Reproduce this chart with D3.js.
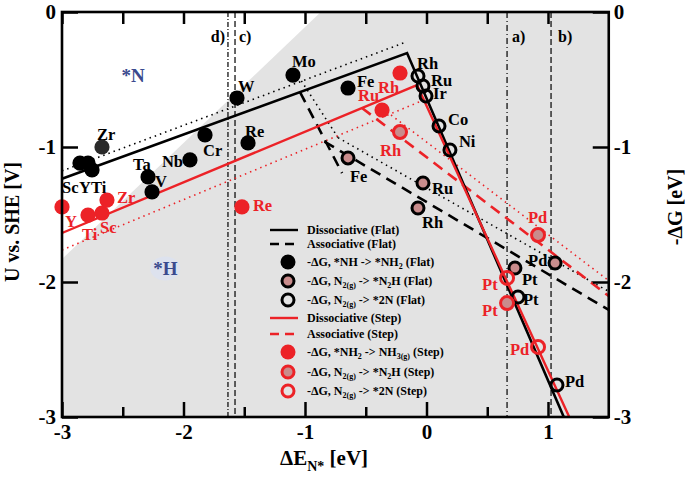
<!DOCTYPE html>
<html><head><meta charset="utf-8">
<script src="https://cdn.jsdelivr.net/npm/d3@7"></script>
<style>
html,body{margin:0;padding:0;background:#fff;}
svg text{font-family:"Liberation Serif","Times New Roman",serif;font-weight:bold;}
</style></head>
<body><svg id="chart" width="685" height="477"></svg>
<script>
// ---------- data ----------
const xMajorTicks = [-3, -2, -1, 0, 1];
const xMinorTicks = [-2.5, -1.5, -0.5, 0.5];
const yTicks = [0, -1, -2, -3];

// lines (ΔE, U)
const dissFlat   = [[-3, -1.235], [-0.16, -0.304], [1.13, -3]];
const assocFlatA = [[-1.04, -0.595], [-0.695, -1.193]];
const assocFlatB = [[-0.84, -0.96], [1.5, -2.207]];
const dotFlatA   = [[-3, -1.177], [-0.17, -0.223]];
const dotFlatB   = [[-1.03, -0.51], [-0.728, -0.931]];
const dotFlatC   = [[-0.728, -0.931], [1.5, -2.07]];
const dissStep   = [[-3, -1.637], [-0.078, -0.541], [1.175, -3]];
const assocStep  = [[-0.531, -0.711], [1.5, -2.104]];
const dotStepA   = [[-3, -1.763], [0.0, -0.644]];
const dotStepB   = [[-0.292, -0.763], [1.5, -1.99]];
const nBoundary  = [[-3, 0], [-3, -1.83], [-0.87, 0]];

// vertical reference lines
const vLineNames = ["d)", "c)", "a)", "b)"];
const vLineX     = [-1.634, -1.576, 0.663, 1.025];

// points
const nhFlat = [
  {m:"Sc",e:-2.852,u:-1.119},{m:"Y",e:-2.786,u:-1.119},{m:"Ti",e:-2.753,u:-1.170},
  {m:"Zr",e:-2.671,u:-1.0},{m:"Ta",e:-2.292,u:-1.222},{m:"V",e:-2.259,u:-1.333},
  {m:"Nb",e:-1.947,u:-1.096},{m:"Cr",e:-1.823,u:-0.911},{m:"W",e:-1.560,u:-0.637},
  {m:"Re",e:-1.469,u:-0.970},{m:"Mo",e:-1.099,u:-0.467},{m:"Fe",e:-0.646,u:-0.563}
];
const n2hFlat = [
  {m:"Fe",e:-0.646,u:-1.081},{m:"Ru",e:-0.029,u:-1.267},{m:"Rh",e:-0.070,u:-1.452},
  {m:"Pt",e:0.728,u:-1.896},{m:"Pd",e:1.058,u:-1.859}
];
const n2Flat = [
  {m:"Rh",e:-0.070,u:-0.474},{m:"Ru",e:-0.029,u:-0.548},{m:"Ir",e:-0.004,u:-0.622},
  {m:"Co",e:0.103,u:-0.844},{m:"Ni",e:0.193,u:-1.022},{m:"Pt",e:0.753,u:-2.111},
  {m:"Pd",e:1.074,u:-2.763}
];
const nh2Step = [
  {m:"Y",e:-3.0,u:-1.444},{m:"Ti",e:-2.786,u:-1.504},{m:"Sc",e:-2.671,u:-1.489},
  {m:"Zr",e:-2.630,u:-1.393},{m:"Re",e:-1.519,u:-1.444},{m:"Ru",e:-0.366,u:-0.726},
  {m:"Rh",e:-0.218,u:-0.452}
];
const n2hStep = [
  {m:"Rh",e:-0.218,u:-0.889},{m:"Pd",e:0.918,u:-1.652},{m:"Pt",e:0.663,u:-2.156}
];
const n2Step = [
  {m:"Pt",e:0.663,u:-1.970},{m:"Pd",e:0.918,u:-2.481}
];

// ---------- styles / label offsets (px) ----------
const RED = "#ec2227", PINK = "#c98c8c", GREY = "#e3e3e3", BLUE = "#3a4a8e";
const labelOff = {
  nhFlat: {Sc:[-18,30],Y:[-9,30],Ti:[-1,23],Zr:[-5,-7],Ta:[-15,-7],V:[3,-5],Nb:[-28,7],Cr:[-2,21],W:[1,-6],Re:[-3,-6],Mo:[-1,-8],Fe:[9,-1]},
  n2hFlat: {Fe:[2,24],Ru:[9,11],Rh:[4,20],Pt:[7,17],Pd:[-27,3]},
  n2Flat: {Rh:[-1,-7],Ru:[8,0],Ir:[7,3],Co:[9,-1],Ni:[9,-3],Pt:[5,8],Pd:[8,2]},
  nh2Step: {Y:[3,20],Ti:[-6,25],Sc:[-2,20],Zr:[10,3],Re:[11,4],Ru:[-24,-9],Rh:[-22,20]},
  n2hStep: {Rh:[-20,24],Pd:[-10,-12],Pt:[-25,13]},
  n2Step: {Pt:[-25,12],Pd:[-28,8]}
};

// ---------- chart ----------
const svg = d3.select("#chart");
const x = d3.scaleLinear().domain([-3, 1.5]).range([62, 608.75]);
const y = d3.scaleLinear().domain([-3, 0]).range([417, 12]);
const X0 = x(-3), X1 = x(1.5), Y0 = y(0), Y1 = y(-3);

const plot = svg.append("g");
plot.append("rect").attr("x", X0).attr("y", Y0).attr("width", X1 - X0).attr("height", Y1 - Y0).attr("fill", GREY);
plot.append("path").attr("d", d3.line().x(d => x(d[0])).y(d => y(d[1]))(nBoundary) + "Z").attr("fill", "#fff");
plot.append("ellipse").attr("cx", x(-2.15)).attr("cy", y(-1.9)).attr("rx", 15).attr("ry", 12).attr("fill", "#dde2ee");

plot.append("text").attr("x", x(-2.51)).attr("y", y(-0.52)).attr("fill", BLUE).attr("font-size", 19).text("*N");
plot.append("text").attr("x", x(-2.25)).attr("y", y(-1.95)).attr("fill", BLUE).attr("font-size", 19).text("*H");

// vertical lines
const vDash = ["5,2,1,2", "6,3", "6,3,1,3", "6,3"];
vLineX.forEach((v, i) => {
  plot.append("line").attr("x1", x(v)).attr("x2", x(v)).attr("y1", Y0).attr("y2", Y1)
    .attr("stroke", "#000").attr("stroke-width", 1.2).attr("stroke-dasharray", vDash[i]);
});
const vLab = [[-3, "end"], [4, "start"], [5, "start"], [7, "start"]];
vLineX.forEach((v, i) => {
  plot.append("text").attr("x", x(v) + vLab[i][0])
    .attr("text-anchor", vLab[i][1]).attr("y", Y0 + 30).attr("font-size", 16).text(vLineNames[i]);
});

const line = d3.line().x(d => x(d[0])).y(d => y(d[1]));
function drawLine(data, color, width, dash) {
  plot.append("path").attr("d", line(data)).attr("fill", "none").attr("stroke", color)
    .attr("stroke-width", width).attr("stroke-dasharray", dash || null).attr("stroke-linejoin", "miter");
}
drawLine(dotFlatA, "#000", 1.6, "1.5,4");
drawLine(dotFlatB, "#000", 1.6, "1.5,4");
drawLine(dotFlatC, "#000", 1.6, "1.5,4");
drawLine(dotStepA, RED, 1.6, "1.5,4");
drawLine(dotStepB, RED, 1.6, "1.5,4");
drawLine(assocFlatA, "#000", 2.6, "11,7");
drawLine(assocFlatB, "#000", 2.6, "11,7");
drawLine(assocStep, RED, 2.6, "11,7");
drawLine(dissFlat, "#000", 2.6);
drawLine(dissStep, RED, 2.4);

// points
function drawPts(data, kind, key, labColor) {
  const g = plot.append("g");
  data.forEach(d => {
    const c = g.append("circle").attr("cx", x(d.e)).attr("cy", y(d.u));
    if (kind === "fillK") c.attr("r", 7.6).attr("fill", d.m === "Zr" ? "#2a2a2a" : "#000");
    if (kind === "fillR") c.attr("r", 7.6).attr("fill", RED);
    if (kind === "ringKP") c.attr("r", 6).attr("fill", PINK).attr("stroke", "#000").attr("stroke-width", 3);
    if (kind === "ringK") c.attr("r", 6).attr("fill", "none").attr("stroke", "#000").attr("stroke-width", 3);
    if (kind === "ringRP") c.attr("r", 6.5).attr("fill", PINK).attr("stroke", RED).attr("stroke-width", 3);
    if (kind === "ringR") c.attr("r", 6.5).attr("fill", "none").attr("stroke", RED).attr("stroke-width", 3);
  });
  data.forEach(d => {
    const o = labelOff[key][d.m];
    g.append("text").attr("x", x(d.e) + o[0]).attr("y", y(d.u) + o[1]).attr("fill", labColor)
      .attr("font-size", 16.5).text(d.m);
  });
}
drawPts(nhFlat, "fillK", "nhFlat", "#000");
drawPts(n2hFlat, "ringKP", "n2hFlat", "#000");
drawPts(n2Flat, "ringK", "n2Flat", "#000");
drawPts(nh2Step, "fillR", "nh2Step", RED);
drawPts(n2hStep, "ringRP", "n2hStep", RED);
drawPts(n2Step, "ringR", "n2Step", RED);

// legend
const legRows = [
  {t:"line", c:"#000", dash:null, y:230, parts:[["Dissociative (Flat)"]]},
  {t:"line", c:"#000", dash:"9,6", y:244, parts:[["Associative (Flat)"]]},
  {t:"fillK", y:262, parts:[["-ΔG, *NH -> *NH"],["2","sub"],[" (Flat)"]]},
  {t:"ringKP", y:281, parts:[["-ΔG, N"],["2(g)","sub"],[" -> *N"],["2","sub"],["H (Flat)"]]},
  {t:"ringK", y:300, parts:[["-ΔG, N"],["2(g)","sub"],[" -> *2N (Flat)"]]},
  {t:"line", c:RED, dash:null, y:318, parts:[["Dissociative (Step)"]]},
  {t:"line", c:RED, dash:"9,6", y:334, parts:[["Associative (Step)"]]},
  {t:"fillR", y:352, parts:[["-ΔG, *NH"],["2","sub"],[" -> NH"],["3(g)","sub"],[" (Step)"]]},
  {t:"ringRP", y:372, parts:[["-ΔG, N"],["2(g)","sub"],[" -> *N"],["2","sub"],["H (Step)"]]},
  {t:"ringR", y:391, parts:[["-ΔG, N"],["2(g)","sub"],[" -> *2N (Step)"]]}
];
const leg = svg.append("g");
legRows.forEach(r => {
  if (r.t === "line") {
    leg.append("line").attr("x1", 270).attr("x2", 298).attr("y1", r.y).attr("y2", r.y)
      .attr("stroke", r.c).attr("stroke-width", 2.4).attr("stroke-dasharray", r.dash);
  } else {
    const c = leg.append("circle").attr("cx", 288).attr("cy", r.y);
    if (r.t === "fillK") c.attr("r", 7.5).attr("fill", "#000");
    if (r.t === "fillR") c.attr("r", 7.5).attr("fill", RED);
    if (r.t === "ringKP") c.attr("r", 6).attr("fill", PINK).attr("stroke", "#000").attr("stroke-width", 3);
    if (r.t === "ringK") c.attr("r", 6).attr("fill", "none").attr("stroke", "#000").attr("stroke-width", 3);
    if (r.t === "ringRP") c.attr("r", 6).attr("fill", PINK).attr("stroke", RED).attr("stroke-width", 3);
    if (r.t === "ringR") c.attr("r", 6).attr("fill", "none").attr("stroke", RED).attr("stroke-width", 3);
  }
  const t = leg.append("text").attr("x", 307).attr("y", r.y + 4).attr("font-size", 12).attr("fill", "#000");
  let shift = 0;
  r.parts.forEach(p => {
    if (p[1] === "sub") {
      t.append("tspan").attr("font-size", 8).attr("dy", 3 - shift).text(p[0]);
      shift = 3;
    } else {
      t.append("tspan").attr("dy", -shift).text(p[0]);
      shift = 0;
    }
  });
});

// axes
const fs = 21;
function styleAxis(g) {
  g.select(".domain").remove();
  g.selectAll(".tick line").attr("stroke", "#000").attr("stroke-width", 2.5);
  g.selectAll(".tick text").attr("font-size", fs).attr("fill", "#000")
    .style("font-family", '"Liberation Serif","Times New Roman",serif').style("font-weight", "bold");
}
const fmt = d => String(d);
svg.append("g").attr("transform", `translate(0,${Y1})`)
  .call(d3.axisBottom(x).tickValues(xMajorTicks).tickSize(-15).tickPadding(7).tickFormat(fmt)).call(styleAxis);
svg.append("g").attr("transform", `translate(0,${Y1})`)
  .call(d3.axisBottom(x).tickValues(xMinorTicks).tickSize(-10).tickFormat("")).call(styleAxis);
svg.append("g").attr("transform", `translate(0,${Y0})`)
  .call(d3.axisTop(x).tickValues(xMajorTicks.concat(xMinorTicks)).tickSize(-12).tickFormat("")).call(styleAxis);
svg.append("g").attr("transform", `translate(${X0},0)`)
  .call(d3.axisLeft(y).tickValues(yTicks).tickSize(-16).tickPadding(6).tickFormat(fmt)).call(styleAxis);
svg.append("g").attr("transform", `translate(${X1},0)`)
  .call(d3.axisRight(y).tickValues(yTicks).tickSize(-16).tickPadding(5).tickFormat(fmt)).call(styleAxis);

svg.append("rect").attr("x", X0).attr("y", Y0).attr("width", X1 - X0).attr("height", Y1 - Y0)
  .attr("fill", "none").attr("stroke", "#000").attr("stroke-width", 2.6);

// axis titles
svg.append("text").attr("transform", "translate(19,222) rotate(-90)").attr("text-anchor", "middle")
  .attr("font-size", 20).text("U vs. SHE [V]");
svg.append("text").attr("transform", "translate(682,207) rotate(-90)").attr("text-anchor", "middle")
  .attr("font-size", 20).text("-ΔG [eV]");
const xt = svg.append("text").attr("x", 280).attr("y", 465).attr("font-size", 21);
xt.append("tspan").text("ΔE");
xt.append("tspan").attr("font-size", 14).attr("dy", 6).text("N*");
xt.append("tspan").attr("dy", -6).text(" [eV]");
</script></body></html>
